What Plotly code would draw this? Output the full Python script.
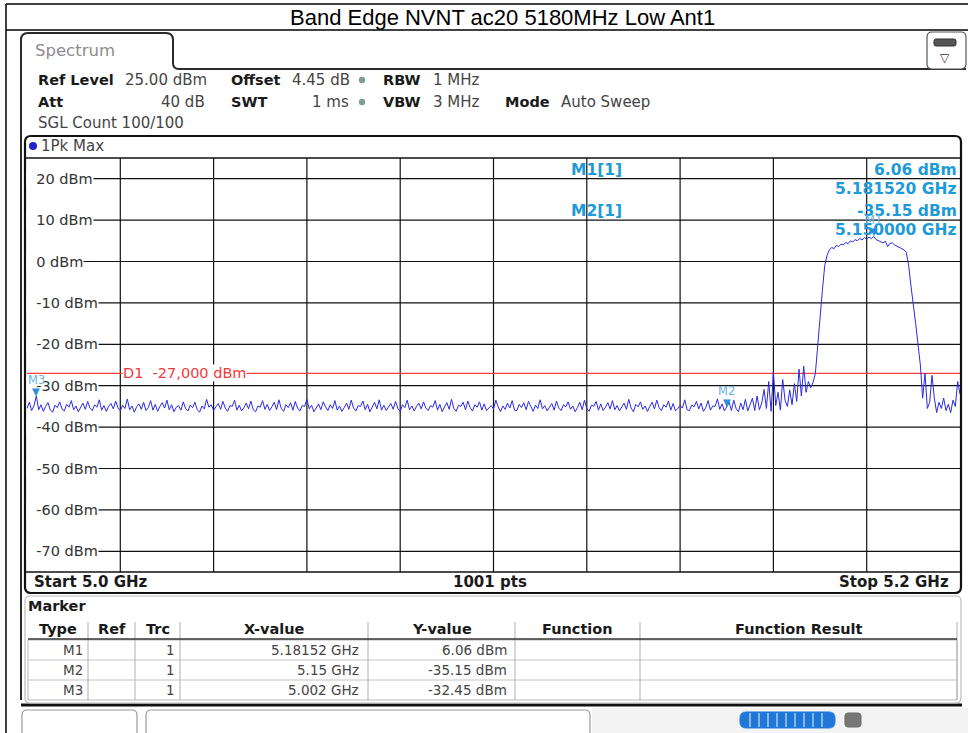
import plotly.graph_objects as go
import numpy as np

# ---------------- data ----------------
start_ghz = 5.0
step_ghz = 0.0005
level_dbm = [
    -35.5, -34.0, -36.0, -34.8, -32.45, -35.8, -34.6, -36.2, -35.0, -34.1, -35.9, -36.4, -34.7, -35.3, -33.9, -35.6, -36.1, -34.5, -35.2, -33.6,
    -35.8, -34.9, -36.3, -35.1, -34.2, -35.7, -33.8, -35.4, -36.0, -34.6, -35.2, -33.4, -35.9, -34.8, -36.2, -35.0, -34.3, -35.6, -33.7, -35.3,
    -36.1, -34.7, -35.5, -33.2, -35.8, -34.9, -36.4, -35.1, -34.4, -35.7, -34.0, -36.0, -35.3, -33.6, -35.9, -34.5, -36.2, -35.0, -34.1, -35.4,
    -33.5, -35.8, -34.6, -36.3, -35.2, -34.8, -35.9, -33.9, -35.5, -36.1, -34.7, -35.3, -34.0, -35.8, -36.4, -34.9, -35.6, -33.3, -35.2, -34.6,
    -36.0, -35.1, -34.3, -35.7, -33.8, -35.4, -36.2, -34.8, -35.0, -33.5, -35.9, -34.7, -36.1, -35.3, -34.2, -35.6, -33.7, -35.8, -36.3, -34.9,
    -35.2, -33.6, -35.7, -34.5, -36.0, -35.1, -34.0, -35.8, -33.4, -35.5, -36.2, -34.6, -35.3, -34.1, -35.9, -33.8, -35.4, -36.1, -34.8, -35.0,
    -33.3, -35.6, -34.7, -36.3, -35.2, -34.4, -35.8, -33.9, -35.1, -36.0, -34.6, -35.5, -33.6, -35.9, -34.9, -36.2, -35.3, -34.2, -35.7, -33.5,
    -35.4, -36.1, -34.8, -35.0, -33.7, -35.8, -34.5, -36.3, -35.2, -34.0, -35.6, -33.4, -35.9, -34.7, -36.0, -35.1, -34.3, -35.7, -33.8, -35.5,
    -36.2, -34.6, -35.3, -33.5, -35.8, -34.9, -36.1, -35.0, -34.2, -35.6, -33.9, -35.4, -36.0, -34.8, -35.2, -33.6, -35.9, -34.5, -36.3, -35.1,
    -34.1, -35.7, -33.3, -35.5, -36.2, -34.7, -35.0, -34.0, -35.8, -33.7, -35.3, -36.1, -34.6, -35.2, -33.9, -35.9, -34.4, -36.0, -35.4, -34.8,
    -35.6, -33.5, -35.1, -36.3, -34.9, -35.7, -34.2, -35.4, -33.6, -35.9, -36.0, -34.5, -35.3, -34.1, -35.8, -33.8, -35.0, -36.2, -34.7, -35.5,
    -33.4, -35.6, -34.8, -36.1, -35.2, -34.3, -35.9, -33.7, -35.4, -36.0, -34.6, -35.1, -33.9, -35.7, -34.9, -36.3, -35.3, -34.0, -35.8, -33.5,
    -35.5, -36.2, -34.7, -35.0, -33.8, -35.9, -34.4, -36.0, -35.2, -34.1, -35.6, -33.6, -35.8, -34.8, -36.1, -35.3, -34.2, -35.7, -33.3, -35.4,
    -36.3, -34.5, -35.1, -33.9, -35.7, -34.9, -36.2, -35.0, -34.0, -35.6, -33.5, -35.3, -36.0, -34.6, -35.2, -33.7, -35.9, -34.3, -36.1, -35.5,
    -34.8, -35.4, -33.4, -35.8, -36.0, -34.7, -35.1, -33.8, -35.6, -34.2, -36.2, -35.3, -33.6, -35.9, -34.9, -35.0, -33.2, -35.7, -34.4, -36.1,
    -35.15, -34.0, -36.0, -33.5, -35.5, -36.3, -34.2, -35.8, -33.3, -36.1, -34.6,
    -33.0, -36.0, -32.5, -35.8, -34.2, -30.9, -35.5, -29.0, -36.2, -26.6, -34.8, -31.6, -35.9, -28.5, -33.5, -35.0,
    -31.0, -34.6, -29.5, -33.8, -26.0, -32.5, -25.3, -31.6, -29.0, -30.5, -29.2, -27.0, -20.0, -12.0, -7.0, -1.0, 1.5,
    2.8, 3.4, 3.1, 3.9, 3.6, 4.2, 4.0, 4.6, 4.3, 5.0, 4.7, 5.3, 5.0, 5.6, 5.2, 5.8, 5.4, 5.9, 5.5, 6.06,
    5.3, 5.0, 4.8, 4.5, 4.9, 3.6, 4.4, 4.5, 4.0, 3.7, 3.4, 3.0, 2.8,
    2.2, -1.0, -6.0, -10.0, -15.0, -20.0, -25.0,
    -33.0, -27.0, -35.5, -34.0, -27.5, -33.0, -36.5, -34.0, -35.5, -33.0, -36.0, -34.5, -36.5, -33.5, -35.0, -29.0, -32.0,
]
freq_ghz = start_ghz + step_ghz * np.arange(len(level_dbm))

display_line_dbm = -27.0
marker_names = ["M1", "M2", "M3"]
marker_freq_ghz = [5.18152, 5.15, 5.002]
marker_level_dbm = [6.06, -35.15, -32.45]
marker_x_text = ["5.18152 GHz", "5.15 GHz", "5.002 GHz"]
marker_y_text = ["6.06 dBm", "-35.15 dBm", "-32.45 dBm"]
y_tick_levels = [20, 10, 0, -10, -20, -30, -40, -50, -60, -70]
x_grid_ghz = [5.02, 5.04, 5.06, 5.08, 5.10, 5.12, 5.14, 5.16, 5.18]
table_headers = ["Type", "Ref", "Trc", "X-value", "Y-value", "Function", "Function Result"]

# ---------------- geometry helpers (pixel -> paper) ----------------
W, H = 968, 733
L, R, T, B = 27, 8, 158, 161
PW = W - L - R
PH = H - T - B


def px(x):
    return (x - L) / PW


def py(y):
    return (H - B - y) / PH


shapes = []
anns = []
FONT = "DejaVu Sans"


def line(x0, y0, x1, y1, color="#000", width=1, layer="above"):
    shapes.append(dict(type="line", xref="paper", yref="paper", x0=px(x0), y0=py(y0),
                       x1=px(x1), y1=py(y1), line=dict(color=color, width=width), layer=layer))


def rect(x0, y0, x1, y1, fill="rgba(0,0,0,0)", color="rgba(0,0,0,0)", width=0, layer="above"):
    shapes.append(dict(type="rect", xref="paper", yref="paper", x0=px(x0), y0=py(y0),
                       x1=px(x1), y1=py(y1), fillcolor=fill, line=dict(color=color, width=width), layer=layer))


def P(x, y):
    return "%.5f,%.5f" % (px(x), py(y))


def rrect(x0, y0, x1, y1, r, color="#000", width=1, fill="rgba(0,0,0,0)", layer="above"):
    d = ("M" + P(x0 + r, y0) + " L" + P(x1 - r, y0) + " Q" + P(x1, y0) + " " + P(x1, y0 + r) +
         " L" + P(x1, y1 - r) + " Q" + P(x1, y1) + " " + P(x1 - r, y1) +
         " L" + P(x0 + r, y1) + " Q" + P(x0, y1) + " " + P(x0, y1 - r) +
         " L" + P(x0, y0 + r) + " Q" + P(x0, y0) + " " + P(x0 + r, y0) + " Z")
    shapes.append(dict(type="path", xref="paper", yref="paper", path=d, fillcolor=fill,
                       line=dict(color=color, width=width), layer=layer))


def path(d, color="#000", width=1, fill="rgba(0,0,0,0)", layer="above"):
    shapes.append(dict(type="path", xref="paper", yref="paper", path=d, fillcolor=fill,
                       line=dict(color=color, width=width), layer=layer))


def text(x, y, s, size=13, color="#222", bold=False, anchor="left", family=FONT, bg=None):
    a = dict(xref="paper", yref="paper", x=px(x), y=py(y), text=("<b>%s</b>" % s) if bold else s,
             showarrow=False, xanchor=anchor, yanchor="middle",
             font=dict(family=family, size=size, color=color), borderpad=0)
    if bg:
        a["bgcolor"] = bg
    anns.append(a)


def circle(x, y, r, fill):
    shapes.append(dict(type="circle", xref="paper", yref="paper", x0=px(x - r), y0=py(y + r),
                       x1=px(x + r), y1=py(y - r), fillcolor=fill, line=dict(width=0), layer="above"))


# ---------------- title frame ----------------
line(6, 4, 968, 4, "#000", 1.5)
line(6, 30, 968, 30, "#000", 1.5)
line(6, 4, 6, 733, "#000", 1.5)
text(502, 17, "Band Edge NVNT ac20 5180MHz Low Ant1", size=22, color="#000",
     family="Liberation Sans", anchor="center")

# ---------------- spectrum tab / window ----------------
d = ("M" + P(21, 700) + " L" + P(21, 40) + " Q" + P(21, 33) + " " + P(28, 33) +
     " L" + P(166, 33) + " Q" + P(173, 33) + " " + P(173, 40) + " L" + P(173, 63) +
     " Q" + P(173, 69) + " " + P(179, 69) + " L" + P(966, 69))
path(d, "#2a2a2a", 2)
line(21, 705, 962, 705, "#111", 3)
rrect(927, 32, 966, 69, 5, "#555", 1.2, "#fff")
rrect(934, 39, 956, 46, 2, "#333", 1, "#555")
text(945, 58, "▽", size=12, color="#333", anchor="center")
text(34, 51, "Spectrum", size=16.5, color="#8c8c8c")

# header settings
hy1, hy2, hy3 = 80, 102, 123
BS, NS = 14.5, 15
text(37, hy1, "Ref Level", BS, "#1a1a1a", True)
text(124, hy1, "25.00 dBm", NS, "#444")
text(230, hy1, "Offset", BS, "#1a1a1a", True)
text(291, hy1, "4.45 dB", NS, "#444")
circle(362, hy1, 3.2, "#7f9d92")
text(382, hy1, "RBW", BS, "#1a1a1a", True)
text(432, hy1, "1 MHz", NS, "#444")
text(37, hy2, "Att", BS, "#1a1a1a", True)
text(206, hy2, "40 dB", NS, "#444", anchor="right")
text(230, hy2, "SWT", BS, "#1a1a1a", True)
text(350, hy2, "1 ms", NS, "#444", anchor="right")
circle(362, hy2, 3.2, "#7f9d92")
text(382, hy2, "VBW", BS, "#1a1a1a", True)
text(432, hy2, "3 MHz", NS, "#444")
text(504, hy2, "Mode", BS, "#1a1a1a", True)
text(560, hy2, "Auto Sweep", NS, "#444")
text(37, hy3, "SGL Count 100/100", NS, "#444")

# trace window
rrect(25, 136, 961, 593, 6, "#111", 2.2)
line(25, 158, 961, 158, "#111", 1.5)
line(25, 572, 961, 572, "#111", 1.5)
circle(33, 146, 4, "#2222cc")
text(40, 146, "1Pk Max", 15, "#444")
text(33, 582, "Start 5.0 GHz", 15, "#1a1a1a", True)
text(490, 582, "1001 pts", 15, "#1a1a1a", True, anchor="center")
text(950, 582, "Stop 5.2 GHz", 15, "#1a1a1a", True, anchor="right")

# grid (data coordinates, below the trace)
for lv in y_tick_levels:
    shapes.append(dict(type="line", xref="x", yref="y", x0=5.0, x1=5.2, y0=lv, y1=lv,
                       line=dict(color="#111", width=1.2), layer="below"))
for fx in x_grid_ghz:
    shapes.append(dict(type="line", xref="x", yref="y", x0=fx, x1=fx, y0=-75, y1=25,
                       line=dict(color="#111", width=1.2), layer="below"))
# marker readout area blanks the grid
rect(567, 158, 961, 240, fill="#fff", layer="below")
# display line D1
shapes.append(dict(type="line", xref="x", yref="y", x0=5.0, x1=5.2, y0=display_line_dbm,
                   y1=display_line_dbm, line=dict(color="#f04040", width=1.2), layer="below"))

for lv in y_tick_levels:
    anns.append(dict(xref="paper", yref="y", x=px(26), y=lv, text="\u00a0\u00a0%d dBm" % lv, showarrow=False,
                     xanchor="left", yanchor="middle", bgcolor="#fff", borderpad=0,
                     font=dict(family=FONT, size=14.5, color="#333")))
anns.append(dict(xref="paper", yref="y", x=px(122), y=display_line_dbm, text="D1\u00a0 -27,000 dBm",
                 showarrow=False, xanchor="left", yanchor="middle", bgcolor="#fff", borderpad=0,
                 font=dict(family=FONT, size=14.5, color="#f03a3a")))

# marker readout
BLUE = "#1e9ad8"
RS = 15.5
text(570, 170, "M1[1]", RS, BLUE, True)
text(958, 170, "6.06 dBm", RS, BLUE, True, anchor="right")
text(958, 189, "5.181520 GHz", RS, BLUE, True, anchor="right")
text(570, 211, "M2[1]", RS, BLUE, True)
text(958, 211, "-35.15 dBm", RS, BLUE, True, anchor="right")
text(958, 230, "5.150000 GHz", RS, BLUE, True, anchor="right")

# marker symbols on the trace
for name, f, v in zip(marker_names, marker_freq_ghz, marker_level_dbm):
    anns.append(dict(xref="x", yref="y", x=f, y=v, text="▼", showarrow=False, xanchor="center",
                     yanchor="bottom", yshift=-3, font=dict(family=FONT, size=10, color="#2a8fd8")))
    anns.append(dict(xref="x", yref="y", x=f, y=v, text=name, showarrow=False, xanchor="center",
                     yanchor="bottom", yshift=7, font=dict(family=FONT, size=11.5, color="#6ab4e0")))

# ---------------- marker table ----------------
rrect(25, 596, 961, 703, 5, "#bbb", 1.2)
text(27, 606, "Marker", 14.5, "#1a1a1a", True)
cols = [28, 88, 135, 180, 368, 515, 640, 957]
rows_y = [640, 660, 680, 700]
rect(28, 640, 957, 700, color="#b8b8b8", width=1)
for yy in rows_y[1:-1]:
    line(28, yy, 957, yy, "#c4c4c4", 1)
for cx in cols[1:-1]:
    line(cx, 622, cx, 700, "#b0b0b0", 1)
line(957, 622, 957, 700, "#b0b0b0", 1)
line(28, 639, 957, 639, "#333", 1.6)
for i, hname in enumerate(table_headers):
    text((cols[i] + cols[i + 1]) / 2, 629, hname, 14.5, "#1a1a1a", True, anchor="center")
for r, (nm, xv, yv) in enumerate(zip(marker_names, marker_x_text, marker_y_text)):
    yc = 650 + 20 * r
    text(84, yc, nm, 13.5, "#444", anchor="right")
    text(176, yc, "1", 13.5, "#444", anchor="right")
    text(360, yc, xv, 13.5, "#444", anchor="right")
    text(508, yc, yv, 13.5, "#444", anchor="right")

# ---------------- bottom status strip ----------------
rect(592, 708, 968, 733, fill="#f3f3f3", layer="below")
rrect(22, 710, 137, 745, 5, "#999", 1.2, "#fff")
rrect(146, 710, 590, 745, 5, "#999", 1.2, "#fff")
rrect(740, 712, 835, 728, 6, "#1f78d8", 1, "#1f78d8")
for sx in range(750, 830, 9):
    line(sx, 713, sx, 727, "#cfe3f7", 1.2)
rrect(845, 713, 861, 727, 3, "#6a6a6a", 1, "#777")

# ---------------- figure ----------------
fig = go.Figure()
fig.add_trace(go.Scatter(x=freq_ghz, y=level_dbm, mode="lines",
                         line=dict(color="#2a2ae8", width=1), hoverinfo="skip", showlegend=False))
fig.update_layout(
    width=W, height=H,
    margin=dict(l=L, r=R, t=T, b=B, pad=0),
    paper_bgcolor="#fff", plot_bgcolor="#fff",
    xaxis=dict(range=[5.0, 5.2], visible=False, showgrid=False, zeroline=False, fixedrange=True),
    yaxis=dict(range=[-75, 25], visible=False, showgrid=False, zeroline=False, fixedrange=True),
    shapes=shapes, annotations=anns, showlegend=False,
)
fig.write_html("out.html", config={"displayModeBar": False},
               post_script="document.body.style.margin='0';document.body.style.overflow='hidden';")
